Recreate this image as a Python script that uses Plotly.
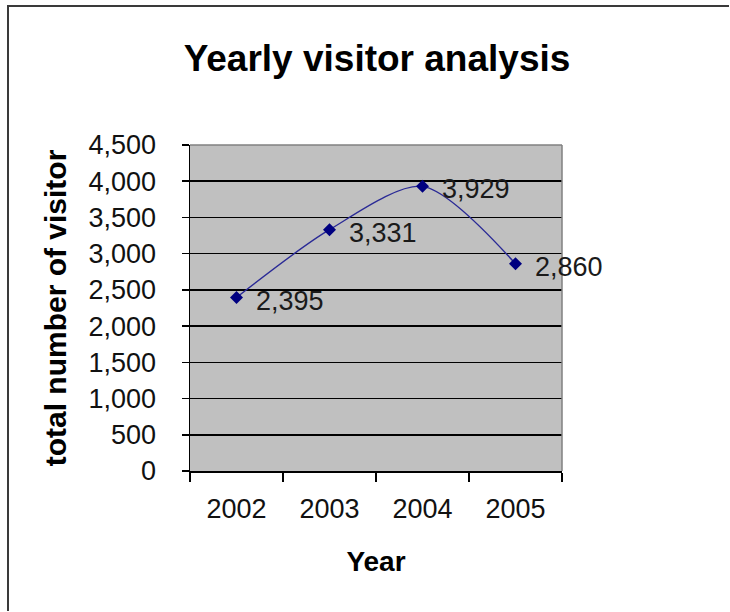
import plotly.graph_objects as go

# Yearly visitor totals
years = ["2002", "2003", "2004", "2005"]
visitors = [2395, 3331, 3929, 2860]

# Value axis ticks
y_ticks = [0, 500, 1000, 1500, 2000, 2500, 3000, 3500, 4000, 4500]
y_tick_labels = [f"{v:,}" for v in y_ticks]

W, H = 730, 612
ML, MR, MT, MB = 190, 168, 145, 141
plot_w = W - ML - MR
plot_h = H - MT - MB

FONT = "Liberation Sans, Arial, sans-serif"
NAVY = "#000080"


def px_x(px):
    return (px - ML) / plot_w


def px_y(py):
    return (H - MB - py) / plot_h


fig = go.Figure()
fig.add_trace(go.Scatter(
    x=years,
    y=visitors,
    mode="lines+markers",
    line=dict(color="#2a2a96", width=1.4, shape="spline", smoothing=0.8),
    marker=dict(symbol="diamond", size=10, color=NAVY),
    hoverinfo="skip",
    showlegend=False,
))

# value labels to the right of each point (category index positions)
annotations = []
for i, v in enumerate(visitors):
    annotations.append(dict(
        x=i, y=v, xref="x", yref="y",
        text=f"{v:,}", showarrow=False,
        xanchor="left", yanchor="middle", xshift=17, yshift=-3,
        font=dict(family=FONT, size=27, color="#1a1a1a"),
    ))

shapes = [
    # outer chart frame: left and top edges
    dict(type="line", xref="paper", yref="paper",
         x0=px_x(8), x1=px_x(8), y0=px_y(611), y1=px_y(6),
         line=dict(color="#3a3a3a", width=2), layer="below"),
    dict(type="line", xref="paper", yref="paper",
         x0=px_x(7), x1=px_x(729), y0=px_y(6), y1=px_y(6),
         line=dict(color="#3a3a3a", width=2), layer="below"),
    # plot area border (top and right)
    dict(type="line", xref="paper", yref="paper",
         x0=0, x1=1, y0=1, y1=1, line=dict(color="#808080", width=1.5), layer="above"),
    dict(type="line", xref="paper", yref="paper",
         x0=1, x1=1, y0=0, y1=1, line=dict(color="#808080", width=1.5), layer="above"),
]

fig.update_layout(
    width=W, height=H,
    margin=dict(l=ML, r=MR, t=MT, b=MB, pad=0),
    paper_bgcolor="white",
    plot_bgcolor="#C0C0C0",
    showlegend=False,
    font=dict(family=FONT, color="#111111"),
    title=dict(
        text="<b>Yearly visitor analysis</b>",
        x=377 / W, xanchor="center",
        y=1 - 58 / H, yanchor="middle",
        font=dict(family=FONT, size=37, color="#000000"),
    ),
    xaxis=dict(
        type="category",
        range=[-0.5, 3.5],
        tickson="boundaries",
        ticks="outside", ticklen=9, tickwidth=1.5, tickcolor="#000000",
        showline=True, linecolor="#000000", linewidth=1.5,
        showgrid=False, zeroline=False,
        tickfont=dict(family=FONT, size=27, color="#111111"),
        ticklabelstandoff=13,
        title=dict(text="<b>Year</b>", standoff=28,
                   font=dict(family=FONT, size=28, color="#000000")),
        fixedrange=True,
    ),
    yaxis=dict(
        range=[0, 4500],
        tickmode="array", tickvals=y_ticks, ticktext=y_tick_labels,
        ticks="outside", ticklen=7, tickwidth=1.5, tickcolor="#000000",
        showline=True, linecolor="#000000", linewidth=1.5,
        showgrid=True, gridcolor="#000000", gridwidth=1.5,
        zeroline=False,
        tickfont=dict(family=FONT, size=27, color="#111111"),
        ticklabelstandoff=20,
        title=dict(text="<b>total number of visitor</b>", standoff=13,
                   font=dict(family=FONT, size=30, color="#000000")),
        fixedrange=True,
    ),
    annotations=annotations,
    shapes=shapes,
)

fig.write_html("out.html", config={"displayModeBar": False, "staticPlot": True})
